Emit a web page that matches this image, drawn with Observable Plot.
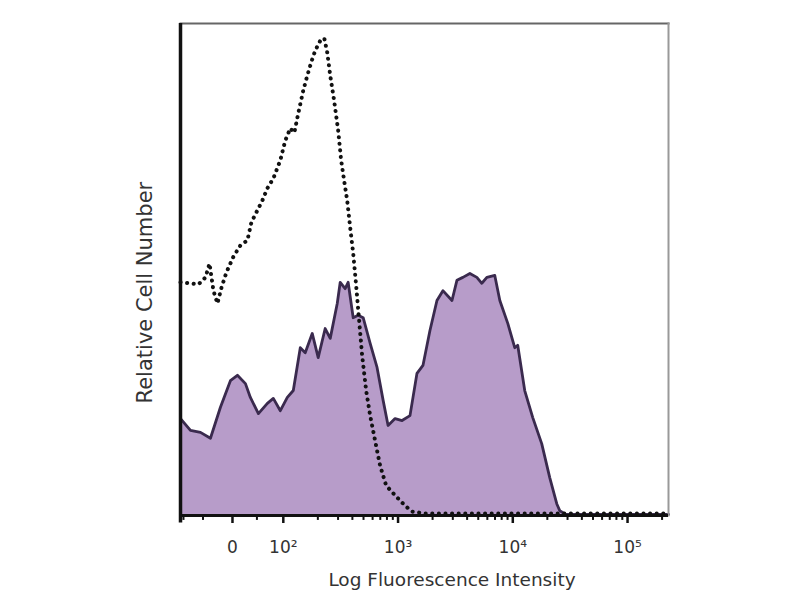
<!DOCTYPE html>
<html>
<head>
<meta charset="utf-8">
<script src="https://cdn.jsdelivr.net/npm/d3@7"></script>
<script src="https://cdn.jsdelivr.net/npm/@observablehq/plot@0.6"></script>
<style>
  html, body { margin: 0; padding: 0; background: #fff; }
  #chart { width: 800px; height: 600px; }
</style>
</head>
<body>
<div id="chart"></div>
<script>
// x values are in display (logicle-like) decade units: 2 = 10^2, 3 = 10^3 ...
const stainedX = [1.104,1.191,1.278,1.365,1.452,1.539,1.600,1.670,1.713,1.783,1.861,1.913,1.974,2.035,2.087,2.148,2.191,2.252,2.304,2.365,2.409,2.470,2.496,2.539,2.565,2.609,2.652,2.696,2.757,2.817,2.870,2.913,2.974,3.035,3.104,3.165,3.217,3.278,3.339,3.391,3.470,3.513,3.565,3.626,3.687,3.730,3.774,3.843,3.887,3.957,4.017,4.043,4.104,4.174,4.252,4.322,4.383,4.409,4.461,5.357];
const stainedY = [19.7,17.3,16.9,15.7,22.0,27.4,28.5,26.8,24.0,20.7,22.8,23.8,21.3,24.0,25.4,34.1,33.1,37.0,32.1,38.0,36.0,43.1,47.4,46.1,47.4,40.2,40.7,40.2,35.0,30.1,23.4,18.3,19.7,19.3,20.3,28.9,30.5,37.6,43.7,45.7,43.7,47.8,48.4,49.2,48.4,47.2,48.4,48.8,43.7,39.0,34.1,34.6,25.4,19.9,14.6,7.7,2.4,1.0,0.2,0.2];

const isotypeX = [1.104,1.261,1.322,1.357,1.391,1.426,1.461,1.504,1.565,1.626,1.687,1.722,1.765,1.817,1.861,1.913,1.974,2.017,2.061,2.096,2.130,2.174,2.209,2.243,2.278,2.322,2.357,2.383,2.409,2.443,2.478,2.504,2.530,2.557,2.583,2.609,2.635,2.661,2.687,2.722,2.757,2.800,2.843,2.896,2.974,3.061,3.122,3.235,5.357];
const isotypeY = [47.4,47.0,48.4,51.2,45.7,43.1,46.3,49.4,52.6,54.9,55.9,59.6,61.6,64.0,66.5,68.5,72.2,76.2,78.7,77.8,81.7,86.4,89.4,92.1,94.5,96.5,97.0,94.1,89.4,84.3,78.3,72.2,68.1,64.0,58.5,53.3,46.7,39.6,32.5,25.4,20.3,15.2,10.2,6.1,4.1,2.0,0.8,0.4,0.4];

const majorTicks = [1.557, 2, 3, 4, 5];
const majorLabels = ["0", "10²", "10³", "10⁴", "10⁵"];
const minorTicks = [1.13, 1.30, 1.77].concat(
  [2, 3, 4].flatMap(d => [2,3,4,5,6,7,8,9].map(k => d + Math.log10(k))),
  [5 + Math.log10(2)]
);

const stained = stainedX.map((x, i) => ({x, y: stainedY[i]}));
const isotype = isotypeX.map((x, i) => ({x, y: isotypeY[i]}));

const chart = Plot.plot({
  width: 800,
  height: 600,
  marginLeft: 180,
  marginRight: 132,
  marginTop: 23,
  marginBottom: 85,
  style: {fontFamily: "DejaVu Sans, Verdana, sans-serif", background: "#fff", color: "#333"},
  x: {domain: [1.104, 5.357], axis: null},
  y: {domain: [0, 100], axis: null},
  marks: [
    Plot.areaY(stained, {x: "x", y: "y", fill: "#b79cc9", curve: "linear"}),
    Plot.lineY(stained, {x: "x", y: "y", stroke: "#3a2a4e", strokeWidth: 2.8, curve: "linear"}),
    Plot.lineY(isotype, {x: "x", y: "y", stroke: "#111", strokeWidth: 4, strokeDasharray: "0.1,6.5", strokeLinecap: "round", curve: "linear"}),
    // frame: thin grey top/right, thick black left/bottom
    Plot.frame({anchor: "top", stroke: "#666", strokeWidth: 2}),
    Plot.frame({anchor: "right", stroke: "#999", strokeWidth: 2}),
    Plot.ruleY([0], {stroke: "#111", strokeWidth: 3}),
    Plot.ruleX([1.104], {stroke: "#111", strokeWidth: 3.5, y1: -1.5, y2: 100}),
    Plot.ruleX(minorTicks, {x: d => d, y1: 0, y2: -1.0, stroke: "#111", strokeWidth: 2}),
    Plot.axisX({ticks: majorTicks, tickFormat: (d, i) => majorLabels[i], label: null, tickSize: 8, tickPadding: 17, fontSize: 17, stroke: "#111", strokeWidth: 2.5, color: "#333"}),
    Plot.text(["Log Fluorescence Intensity"], {frameAnchor: "bottom", dy: 70, x: 3.47, fontSize: 18.5, fill: "#333"}),
    Plot.text(["Relative Cell Number"], {frameAnchor: "left", dx: -35, y: 45.3, textAnchor: "middle", rotate: -90, fontSize: 21, fill: "#333"})
  ]
});
document.getElementById("chart").appendChild(chart);
</script>
</body>
</html>
